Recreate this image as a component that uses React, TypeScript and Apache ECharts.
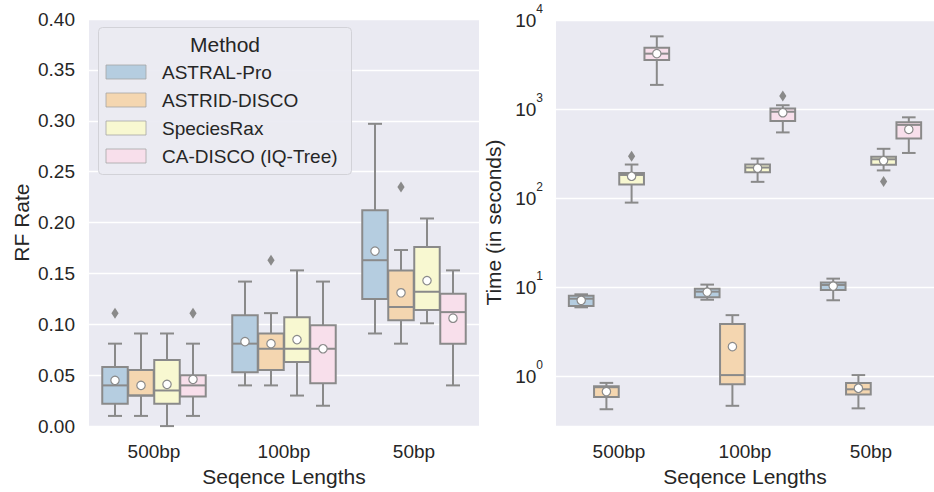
import React, { useEffect, useRef } from 'react';
import * as echarts from 'echarts';

// ---------- data ----------
const categories = ['500bp', '100bp', '50bp'];
const methods = ['ASTRAL-Pro', 'ASTRID-DISCO', 'SpeciesRax', 'CA-DISCO (IQ-Tree)'];
const methodColors = ['#b5cde0', '#f4d6b0', '#f8f8d1', '#f8dfeb'];

// RF rate: [lowerWhisker, q1, median, q3, upperWhisker] per category
const rfAstralPro = [[0.010, 0.022, 0.040, 0.058, 0.081], [0.040, 0.053, 0.081, 0.109, 0.142], [0.091, 0.125, 0.163, 0.212, 0.297]];
const rfAstridDisco = [[0.010, 0.030, 0.030, 0.055, 0.091], [0.040, 0.055, 0.076, 0.091, 0.111], [0.081, 0.104, 0.117, 0.153, 0.173]];
const rfSpeciesRax = [[0.000, 0.022, 0.035, 0.065, 0.091], [0.030, 0.063, 0.076, 0.107, 0.153], [0.101, 0.114, 0.132, 0.176, 0.204]];
const rfCaDisco = [[0.010, 0.029, 0.040, 0.050, 0.081], [0.020, 0.042, 0.076, 0.099, 0.142], [0.040, 0.081, 0.112, 0.130, 0.153]];
const rfMeans = [[0.045, 0.083, 0.172], [0.040, 0.081, 0.131], [0.041, 0.085, 0.143], [0.046, 0.076, 0.106]];
// [categoryIndex, methodIndex, value]
const rfOutliers = [[0, 0, 0.111], [0, 3, 0.111], [1, 1, 0.163], [2, 1, 0.235]];

// Time (seconds)
const timeAstralPro = [[6.0, 6.2, 7.5, 8.1, 8.4], [7.3, 7.8, 9.0, 9.7, 10.8], [7.2, 9.4, 10.7, 11.4, 12.6]];
const timeAstridDisco = [[0.43, 0.59, 0.76, 0.78, 0.85], [0.47, 0.82, 1.04, 3.9, 4.9], [0.44, 0.63, 0.72, 0.85, 1.04]];
const timeSpeciesRax = [[90, 144, 184, 193, 241], [154, 198, 223, 241, 281], [207, 239, 276, 295, 362]];
const timeCaDisco = [[1890, 3600, 4240, 4930, 6630], [553, 743, 944, 1028, 1117], [325, 471, 672, 719, 817]];
const timeMeans = [[7.2, 8.9, 10.4], [0.68, 2.17, 0.74], [178, 219, 267], [4240, 920, 598]];
const timeOutliers = [[0, 2, 298], [1, 3, 1420], [2, 2, 155]];

const rfTicks = { min: 0, max: 0.4, interval: 0.05 };
const timeRange = { min: 0.278, max: 10390 };

// ---------- styles ----------
const FONT = 'Liberation Sans, Arial, Helvetica, sans-serif';
const TEXT = '#262626';
const GRAY = '#8a8a8a';
const BG = '#eaeaf2';

function boxSeries(methodIdx: number, stats: number[][], means: number[], axisIdx: number) {
  const data = stats.map((s, i) => [i, ...s, means[i]]);
  return {
    type: 'custom',
    name: methods[methodIdx],
    xAxisIndex: axisIdx,
    yAxisIndex: axisIdx,
    encode: { x: 0, y: [1, 2, 3, 4, 5, 6] },
    itemStyle: { color: methodColors[methodIdx] },
    data,
    z: 3,
    renderItem: (params: any, api: any) => {
      const cat = api.value(0);
      const med = api.value(3);
      const p0 = api.coord([0, med]);
      const p1 = api.coord([1, med]);
      const band = p1[0] - p0[0];
      const cx = api.coord([cat, med])[0] + (methodIdx - 1.5) * 0.2 * band;
      const y = (k: number) => api.coord([cat, api.value(k)])[1];
      const boxW = 0.2 * band * 0.98;
      const capW = boxW * 0.55;
      const ls = { stroke: GRAY, lineWidth: 2 };
      return {
        type: 'group',
        children: [
          { type: 'line', shape: { x1: cx, y1: y(5), x2: cx, y2: y(4) }, style: ls },
          { type: 'line', shape: { x1: cx, y1: y(2), x2: cx, y2: y(1) }, style: ls },
          { type: 'line', shape: { x1: cx - capW / 2, y1: y(5), x2: cx + capW / 2, y2: y(5) }, style: ls },
          { type: 'line', shape: { x1: cx - capW / 2, y1: y(1), x2: cx + capW / 2, y2: y(1) }, style: ls },
          {
            type: 'rect',
            shape: { x: cx - boxW / 2, y: y(4), width: boxW, height: y(2) - y(4) },
            style: { fill: methodColors[methodIdx], stroke: GRAY, lineWidth: 2 },
          },
          { type: 'line', shape: { x1: cx - boxW / 2, y1: y(3), x2: cx + boxW / 2, y2: y(3) }, style: ls },
          { type: 'circle', shape: { cx, cy: y(6), r: 4.2 }, style: { fill: '#ffffff', stroke: GRAY, lineWidth: 1.2 } },
        ],
      };
    },
  };
}

function outlierSeries(points: number[][], axisIdx: number) {
  return {
    type: 'custom',
    name: 'outliers',
    xAxisIndex: axisIdx,
    yAxisIndex: axisIdx,
    encode: { x: 0, y: 2 },
    data: points,
    z: 4,
    renderItem: (params: any, api: any) => {
      const cat = api.value(0);
      const m = api.value(1);
      const v = api.value(2);
      const p0 = api.coord([0, v]);
      const p1 = api.coord([1, v]);
      const band = p1[0] - p0[0];
      const pt = api.coord([cat, v]);
      const cx = pt[0] + (m - 1.5) * 0.2 * band;
      const cy = pt[1];
      return {
        type: 'polygon',
        shape: { points: [[cx, cy - 5.5], [cx + 3.6, cy], [cx, cy + 5.5], [cx - 3.6, cy]] },
        style: { fill: GRAY },
      };
    },
  };
}

const catAxis = (gridIndex: number) => ({
  type: 'category',
  gridIndex,
  data: categories,
  axisLine: { show: false },
  axisTick: { show: false },
  splitLine: { show: false },
  axisLabel: { fontSize: 19, color: TEXT, margin: 16, fontFamily: FONT },
  name: 'Seqence Lengths',
  nameLocation: 'middle',
  nameGap: 37,
  nameTextStyle: { fontSize: 21, color: TEXT, fontFamily: FONT },
});

export default function App() {
  const ref = useRef<HTMLDivElement>(null);
  useEffect(() => {
    document.body.style.margin = '0';
    const chart = echarts.init(ref.current!, undefined, { renderer: 'svg' });
    const legendChildren: any[] = [
      {
        type: 'rect',
        z: 100,
        shape: { x: 98.5, y: 27.5, width: 253, height: 147, r: 4 },
        style: { fill: 'rgba(234,234,242,0.92)', stroke: '#d2d2d8', lineWidth: 1 },
      },
      {
        type: 'text',
        z: 101,
        x: 225,
        y: 44,
        style: { text: 'Method', fontSize: 21, fill: TEXT, fontFamily: FONT, align: 'center', verticalAlign: 'middle' },
      },
    ];
    methods.forEach((m, i) => {
      legendChildren.push({
        type: 'rect',
        z: 101,
        shape: { x: 106, y: 72 + 28 * i - 7, width: 40, height: 14 },
        style: { fill: methodColors[i], stroke: '#a5a5a5', lineWidth: 0.8 },
      });
      legendChildren.push({
        type: 'text',
        z: 101,
        x: 162,
        y: 72 + 28 * i,
        style: { text: m, fontSize: 19, fill: TEXT, fontFamily: FONT, align: 'left', verticalAlign: 'middle' },
      });
    });

    const rfStats = [rfAstralPro, rfAstridDisco, rfSpeciesRax, rfCaDisco];
    const timeStats = [timeAstralPro, timeAstridDisco, timeSpeciesRax, timeCaDisco];

    chart.setOption({
      animation: false,
      textStyle: { fontFamily: FONT },
      grid: [
        { left: 89, top: 19, width: 390, height: 414, show: true, backgroundColor: BG, borderWidth: 0 },
        { left: 556, top: 19, width: 388, height: 414, show: true, backgroundColor: BG, borderWidth: 0 },
      ],
      xAxis: [catAxis(0), catAxis(1)],
      yAxis: [
        {
          type: 'value',
          gridIndex: 0,
          min: rfTicks.min,
          max: rfTicks.max,
          interval: rfTicks.interval,
          axisLine: { show: false },
          axisTick: { show: false },
          splitLine: { lineStyle: { color: '#ffffff', width: 1.3 } },
          axisLabel: { fontSize: 19, color: TEXT, margin: 14, fontFamily: FONT, formatter: (v: number) => v.toFixed(2) },
          name: 'RF Rate',
          nameLocation: 'middle',
          nameGap: 57,
          nameTextStyle: { fontSize: 21, color: TEXT, fontFamily: FONT },
        },
        {
          type: 'log',
          logBase: 10,
          gridIndex: 1,
          min: timeRange.min,
          max: timeRange.max,
          axisLine: { show: false },
          axisTick: { show: false },
          splitLine: { lineStyle: { color: '#ffffff', width: 1.3 } },
          axisLabel: {
            margin: 13,
            formatter: (v: number) => {
              const e = Math.log10(v);
              const r = Math.round(e);
              if (Math.abs(e - r) > 1e-6) return '';
              return `{b|10}{s|${r}}`;
            },
            rich: {
              b: { fontSize: 19, lineHeight: 35, color: TEXT, fontFamily: FONT },
              s: { fontSize: 12, lineHeight: 12, verticalAlign: 'top', color: TEXT, fontFamily: FONT },
            },
          },
          name: 'Time (in seconds)',
          nameLocation: 'middle',
          nameGap: 52,
          nameTextStyle: { fontSize: 21, color: TEXT, fontFamily: FONT },
        },
      ],
      series: [
        ...rfStats.map((s, i) => boxSeries(i, s, rfMeans[i], 0)),
        outlierSeries(rfOutliers, 0),
        ...timeStats.map((s, i) => boxSeries(i, s, timeMeans[i], 1)),
        outlierSeries(timeOutliers, 1),
      ],
      graphic: legendChildren,
    });
    return () => chart.dispose();
  }, []);
  return <div ref={ref} style={{ position: 'absolute', left: 0, top: 0, width: 934, height: 492 }} />;
}
